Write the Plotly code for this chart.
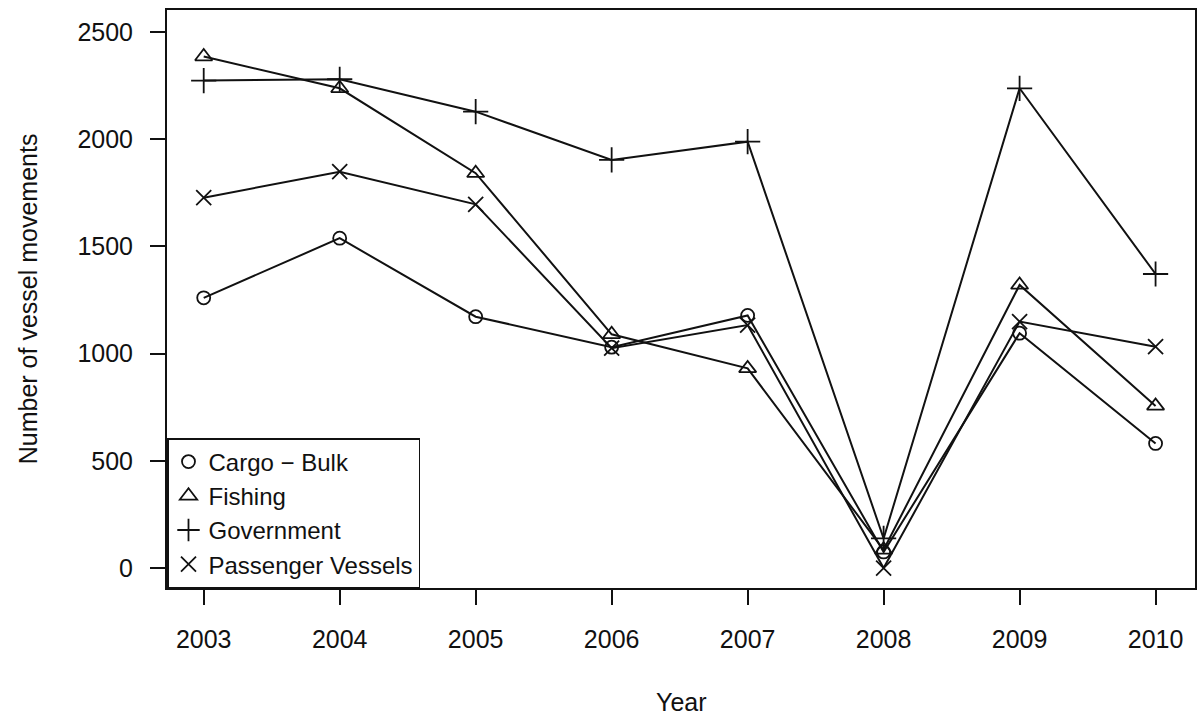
import plotly.graph_objects as go

years = [2003, 2004, 2005, 2006, 2007, 2008, 2009, 2010]
cargo_bulk = [1260, 1538, 1172, 1030, 1178, 75, 1095, 581]
fishing = [2385, 2237, 1841, 1090, 931, 85, 1320, 756]
government = [2273, 2279, 2128, 1903, 1988, 138, 2237, 1371]
passenger = [1727, 1848, 1696, 1025, 1133, 0, 1149, 1032]

series_names = ["Cargo \u2212 Bulk", "Fishing", "Government", "Passenger Vessels"]
series_values = [cargo_bulk, fishing, government, passenger]
symbols = ["circle-open", "triangle-up-open", "cross-thin-open", "x-thin-open"]
sizes = [13, 15, 18, 15]

y_ticks = [0, 500, 1000, 1500, 2000, 2500]

FONT = "Liberation Sans, Arial, Helvetica, sans-serif"
INK = "#111111"
FS = 25

fig = go.Figure()
for name, vals, sym, sz in zip(series_names, series_values, symbols, sizes):
    fig.add_trace(go.Scatter(
        x=years, y=vals, mode="lines+markers", name=name, showlegend=False,
        line=dict(color=INK, width=2),
        marker=dict(symbol=sym, size=sz, color=INK, line=dict(color=INK, width=1.8)),
    ))
# legend entries (symbols only, as in the original)
for name, sym, sz in zip(series_names, symbols, sizes):
    fig.add_trace(go.Scatter(
        x=[None], y=[None], mode="markers", name=name, showlegend=True,
        marker=dict(symbol=sym, size=sz, color=INK, line=dict(color=INK, width=1.8)),
    ))

fig.update_layout(
    width=1199, height=719,
    margin=dict(l=167, r=2, t=10, b=131),
    paper_bgcolor="white", plot_bgcolor="white",
    font=dict(family=FONT, size=FS, color=INK),
    legend=dict(
        x=0, y=0, xanchor="left", yanchor="bottom",
        bordercolor=INK, borderwidth=1.5, bgcolor="white",
        font=dict(family=FONT, size=24, color=INK),
        tracegroupgap=0, itemsizing="trace",
    ),
    xaxis=dict(
        range=[2002.73, 2010.29], tickvals=years, ticktext=[str(y) for y in years],
        showgrid=False, zeroline=False,
        showline=True, mirror=True, linecolor=INK, linewidth=2,
        ticks="outside", ticklen=15, tickwidth=1.5, tickcolor=INK,
        ticklabelstandoff=13,
        tickfont=dict(family=FONT, size=FS, color=INK),
    ),
    yaxis=dict(
        range=[-93, 2602], tickvals=y_ticks,
        showgrid=False, zeroline=False,
        showline=True, mirror=True, linecolor=INK, linewidth=2,
        ticks="outside", ticklen=15, tickwidth=1.5, tickcolor=INK,
        ticklabelstandoff=12,
        tickfont=dict(family=FONT, size=FS, color=INK),
    ),
    annotations=[
        dict(text="Year", xref="paper", yref="paper", x=0.5, y=(588 - 702) / 578,
             xanchor="center", yanchor="middle", showarrow=False,
             font=dict(family=FONT, size=FS, color=INK)),
        dict(text="Number of vessel movements", xref="paper", yref="paper",
             x=(28 - 167) / 1030, y=0.5, textangle=-90,
             xanchor="center", yanchor="middle", showarrow=False,
             font=dict(family=FONT, size=FS, color=INK)),
    ],
)

fig.write_html("out.html")
